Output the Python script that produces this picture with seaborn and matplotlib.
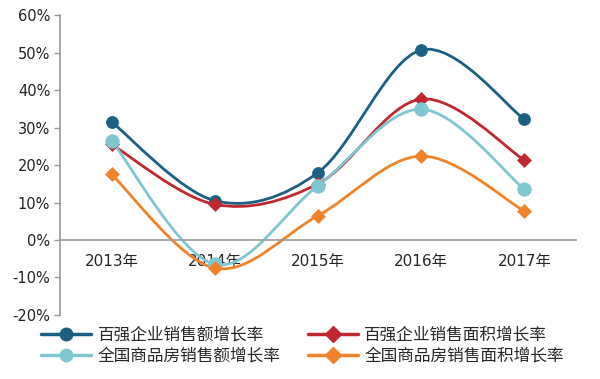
import numpy as np
import pandas as pd
import matplotlib
matplotlib.use("Agg")
import matplotlib.pyplot as plt
from matplotlib.path import Path
from matplotlib.patches import PathPatch
from matplotlib.lines import Line2D
import seaborn as sns

years = ["2013年", "2014年", "2015年", "2016年", "2017年"]
top100_sales = [31.5, 10.5, 18.0, 50.7, 32.2]
top100_area = [25.5, 9.5, 15.0, 37.6, 21.3]
national_sales = [26.5, -6.5, 14.5, 34.9, 13.5]
national_area = [17.5, -7.5, 6.5, 22.4, 7.7]
series_names = ["百强企业销售额增长率", "百强企业销售面积增长率",
                "全国商品房销售额增长率", "全国商品房销售面积增长率"]
yticks = [-20, -10, 0, 10, 20, 30, 40, 50, 60]

sns.set_theme(style="white")
plt.rcParams['font.family'] = ['DejaVu Sans', 'Noto Sans CJK SC']

colors = ["#1b5f82", "#c0282f", "#7ec6d2", "#f0832a"]
markers = ["o", "D", "o", "D"]
msizes = [75, 50, 95, 50]
values = [top100_sales, top100_area, national_sales, national_area]

rows = []
for name, vals in zip(series_names, values):
    for i, v in enumerate(vals):
        rows.append({"x": i, "year": years[i], "value": v, "series": name})
df = pd.DataFrame(rows)

fig = plt.figure(figsize=(6.0, 3.79), dpi=100)
ax = fig.add_axes([0.1, 0.169, 0.86, 0.791])

def smooth_path(xs, ys, t=1/6):
    verts = [(xs[0], ys[0])]
    codes = [Path.MOVETO]
    n = len(xs)
    for i in range(n - 1):
        p0 = np.array([xs[max(i - 1, 0)], ys[max(i - 1, 0)]])
        p1 = np.array([xs[i], ys[i]])
        p2 = np.array([xs[i + 1], ys[i + 1]])
        p3 = np.array([xs[min(i + 2, n - 1)], ys[min(i + 2, n - 1)]])
        c1 = p1 + (p2 - p0) * t
        c2 = p2 - (p3 - p1) * t
        verts += [tuple(c1), tuple(c2), tuple(p2)]
        codes += [Path.CURVE4] * 3
    return Path(verts, codes)

for k in range(4):
    name = series_names[k]
    sub = df[df.series == name]
    path = smooth_path(sub.x.values.astype(float), sub.value.values.astype(float))
    ax.add_patch(PathPatch(path, fill=False, edgecolor=colors[k], lw=2.0, zorder=2 + k * 0.1))
    sns.scatterplot(data=sub, x="x", y="value", ax=ax, color=colors[k], marker=markers[k],
                    s=msizes[k], edgecolor=colors[k], linewidth=0.5, zorder=3 + k * 0.1, legend=False)

ax.set_xlim(-0.5, 4.5)
ax.set_ylim(-20, 60)
ax.set_yticks(yticks)
ax.set_yticklabels([f"{v}%" for v in yticks], fontsize=10.5, color="#222222")
ax.set_xticks([-0.5, 0.5, 1.5, 2.5, 3.5, 4.5])
ax.set_xticklabels([])
ax.set_xticks(range(5), minor=True)
ax.set_xticklabels(years, minor=True, fontsize=10.5, color="#222222")
ax.tick_params(axis="x", which="major", direction="out", length=5, color="#999999", width=1)
ax.tick_params(axis="x", which="minor", length=0, pad=10)
ax.tick_params(axis="y", direction="out", length=4, color="#999999", width=1, pad=3, left=True)
ax.set_xlabel("")
ax.set_ylabel("")
for s in ["top", "right"]:
    ax.spines[s].set_visible(False)
ax.spines["bottom"].set_position(("data", 0))
ax.spines["bottom"].set_color("#999999")
ax.spines["left"].set_color("#999999")
ax.spines["bottom"].set_linewidth(1.2)
ax.spines["left"].set_linewidth(1.2)
ax.grid(False)

handles = [Line2D([0], [0], color=colors[k], lw=2.5, marker=markers[k],
                  markersize=9 if markers[k] == "o" else 8, markerfacecolor=colors[k],
                  markeredgecolor=colors[k]) for k in range(4)]
leg_order = [0, 2, 1, 3]
fig.legend([handles[k] for k in leg_order], [series_names[k] for k in leg_order],
           loc="upper left", bbox_to_anchor=(0.055, 0.163), ncol=2, frameon=False,
           fontsize=12, handlelength=3.0, handletextpad=0.4, borderpad=0,
           labelspacing=0.2, columnspacing=1.6, numpoints=1)

fig.savefig("out.png", dpi=100)
